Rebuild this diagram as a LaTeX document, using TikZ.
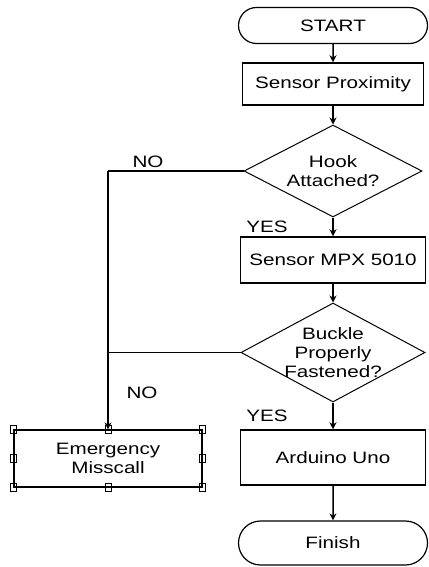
\documentclass[tikz,border=0pt]{standalone}
\usepackage{fontspec}
\setmainfont{Liberation Sans}[FakeStretch=1.25]
\usetikzlibrary{shapes.geometric,shapes.misc,arrows.meta}
\begin{document}
\begin{tikzpicture}[x=1pt,y=-1pt,
  every node/.style={font=\fontsize{16.5}{19}\selectfont},
  term/.style={rounded rectangle, draw, line width=1.2pt, minimum width=189pt, minimum height=36pt, inner sep=0pt},
  proc/.style={rectangle, draw, line width=1.5pt, minimum width=184pt, inner sep=0pt, align=center},
  dec/.style={diamond, draw, line width=1pt, inner sep=0pt},
  conn/.style={line width=1.5pt},
  arr/.style={conn, -{Stealth[length=7pt,width=7pt]}},
  handle/.style={draw, line width=0.5pt, minimum width=6pt, minimum height=8pt, inner sep=0pt},
  lbl/.style={inner sep=0pt}
]
\useasboundingbox (0,0) rectangle (428,567);

\node[term] (start) at (333,25.5) {START};
\node[proc, minimum width=181pt, minimum height=42pt] (prox) at (333,84) {Sensor Proximity};
\node[dec, minimum width=178pt, minimum height=92pt, label={[align=center]center:Hook\\Attached?}] (hook) at (333,171) {};
\node[proc, minimum width=185pt, minimum height=46pt] (mpx) at (333,260) {Sensor MPX 5010};
\node[dec, minimum width=184pt, minimum height=99pt, label={[align=center]center:Buckle\\Properly\\Fastened?}] (buckle) at (333,352.5) {};
\node[proc, minimum width=185pt, minimum height=55pt] (ard) at (333,457.5) {Arduino Uno};
\node[term, minimum height=44pt] (fin) at (333,543) {Finish};
\node[proc, minimum width=188pt, minimum height=57pt, line width=1.2pt] (emg) at (108,458.5) {Emergency\\Misscall};

% selection handles
\foreach \a/\n in {north west/h1, north/h2, north east/h3, west/h4, east/h5, south west/h6, south/h7, south east/h8}
  \node[handle] (\n) at (emg.\a) {};

\draw[arr] (start) -- (prox);
\draw[arr] (prox) -- (hook);
\draw[arr] (hook) -- (mpx);
\draw[arr] (mpx) -- (buckle);
\draw[arr] (buckle) -- (ard);
\draw[arr] (ard) -- (fin);

\coordinate (c1) at (hook.west -| emg.north);
\coordinate (c2) at (buckle.west -| emg.north);
\draw[conn] (hook.west) -- (c1);
\draw[arr] (c1) -- (emg.north);
\draw[line width=1pt] (buckle.west) -- (c2);

\node[lbl] (no1) at (148,162) {NO};
\node[lbl] (no2) at (142,393) {NO};
\node[lbl] (yes1) at (267,227) {YES};
\node[lbl] (yes2) at (267,416) {YES};
\end{tikzpicture}
\end{document}
